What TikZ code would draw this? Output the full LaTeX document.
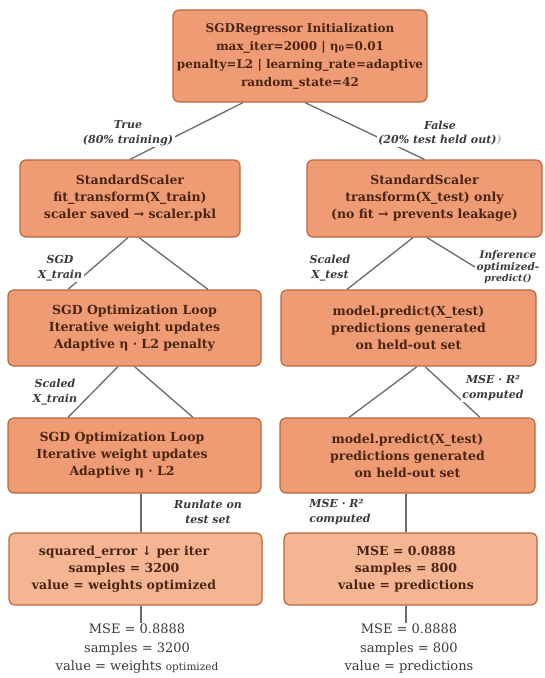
\documentclass[tikz,border=0pt]{standalone}
\usepackage{fontspec}
\setmainfont{DejaVu Serif}
\usetikzlibrary{calc,backgrounds}
\definecolor{boxfill}{HTML}{EF9C74}
\definecolor{boxfilllight}{HTML}{F5B592}
\definecolor{boxdraw}{HTML}{B9683F}
\definecolor{boxtext}{HTML}{4A2414}
\definecolor{linec}{HTML}{6A6A6A}
\definecolor{labc}{HTML}{3A3A3A}
\tikzset{
  box/.style={draw=boxdraw, line width=1.2pt, fill=boxfill, rounded corners=6pt,
    align=center, font=\fontsize{12.5}{17}\selectfont\bfseries, text=boxtext, inner sep=0pt},
  lbox/.style={box, fill=boxfilllight},
  boxtxt/.style={align=center, font=\fontsize{12.5}{17}\selectfont\bfseries, text=boxtext, inner sep=0pt},
  conn/.style={draw=linec, line width=1.3pt},
  lab/.style={font=\fontsize{11}{14.5}\selectfont\bfseries\itshape, text=labc,
    align=center, fill=white, inner sep=1.5pt},
  plain/.style={font=\fontsize{13}{18.5}\selectfont, text=labc, align=center, inner sep=1pt},
}
\begin{document}
\begin{tikzpicture}[x=1pt,y=-1pt]
\useasboundingbox (0,0) rectangle (545,678);
% boxes
\node[box, minimum width=254pt, minimum height=92pt, font=\fontsize{12}{18}\selectfont\bfseries] (top) at (300,56)
  {SGDRegressor Initialization\\max\_iter=2000 | η\textsubscript{0}=0.01\\penalty=L2 | learning\_rate=adaptive\\random\_state=42};
\node[box, minimum width=220pt, minimum height=77pt] (L2) at (130,198.5)
  {StandardScaler\\fit\_transform(X\_train)\\scaler saved → scaler.pkl};
\node[box, minimum width=235pt, minimum height=77pt] (R2) at (424.5,198.5)
  {StandardScaler\\transform(X\_test) only\\(no fit → prevents leakage)};
\node[box, minimum width=253pt, minimum height=76pt] (L3) at (134.5,328)
  {SGD Optimization Loop\\Iterative weight updates\\Adaptive η · L2 penalty};
\node[box, minimum width=255pt, minimum height=76pt] (R3) at (408.5,328)
  {model.predict(X\_test)\\predictions generated\\on held-out set};
\node[box, minimum width=253pt, minimum height=75pt] (L4) at (134.5,455.5) {};
\node[boxtxt] (L4t) at (122,455.5)
  {SGD Optimization Loop\\Iterative weight updates\\Adaptive η · L2};
\node[box, minimum width=255pt, minimum height=75pt] (R4) at (407.5,455.5)
  {model.predict(X\_test)\\predictions generated\\on held-out set};
\node[lbox, minimum width=253pt, minimum height=72pt] (L5) at (135.5,569) {};
\node[boxtxt] (L5t) at (124,569)
  {squared\_error ↓ per iter\\samples = 3200\\value = weights optimized};
\node[lbox, minimum width=253pt, minimum height=72pt] (R5) at (410.5,569) {};
\node[boxtxt] (R5t) at (406,569)
  {MSE = 0.0888\\samples = 800\\value = predictions};
% labels
\node[lab] (t1) at (128,133) {True\\(80\% training)};
\node[lab] (f1) at (440,133) {False\\(20\% test held out)\textcolor{gray!50}{)}};
\node[lab] (l23) at (60,268) {SGD\\X\_train};
\node[lab] (r23) at (330,268) {Scaled\\X\_test};
\node[lab, fill=none, font=\fontsize{10.5}{11.5}\selectfont\bfseries\itshape] (inf) at (508,267)
  {Inference\\optimized-\\{\fontsize{9.5}{11}\selectfont predict()}};
\node[lab] (l34) at (55,392) {Scaled\\X\_train};
\node[lab] (r34) at (493,388) {MSE · R²\\computed};
\node[lab] (l45) at (208,512) {Runlate on\\test set};
\node[lab, align=left] (r45) at (340,512) {MSE · R²\\computed};
% bottom texts
\node[plain, anchor=north] (lt) at (137,623)
  {MSE = 0.8888\\samples = 3200\\value = weights {\fontsize{10.5}{12}\selectfont optimized}};
\node[plain, anchor=north] (rt) at (409,623)
  {MSE = 0.8888\\samples = 800\\value = predictions};
% connectors
\begin{scope}[on background layer]
\fill[white] (0,0) rectangle (545,678);
\draw[conn] ([xshift=-57pt]top.south) -- (L2.north);
\draw[conn] ([xshift=5pt]top.south) -- (R2.north);
\draw[conn] ([xshift=-2pt]L2.south) -- ([xshift=-66.5pt]L3.north);
\draw[conn] ([xshift=9pt]L2.south) -- ([xshift=73.5pt]L3.north);
\draw[conn] ([xshift=-11.5pt]R2.south) -- ([xshift=-61.5pt]R3.north);
\draw[conn] ([xshift=2.5pt]R2.south) -- (inf.west);
\draw[conn] ([xshift=-16.5pt]L3.south) -- ([xshift=-66.5pt]L4.north);
\draw[conn] (L3.south) -- ([xshift=58.5pt]L4.north);
\draw[conn] ([xshift=8.5pt]R3.south) -- ([xshift=-58.5pt]R4.north);
\draw[conn] ([xshift=16.5pt]R3.south) -- ([xshift=72.5pt]R4.north);
\draw[conn] ([xshift=6.5pt]L4.south) -- ([xshift=6.5pt]L4.south |- L5.north);
\draw[conn] ([xshift=-1.5pt]R4.south) -- ([xshift=-1.5pt]R4.south |- R5.north);
\draw[conn] ([xshift=5.5pt]L5.south) -- ([xshift=5.5pt]L5.south |- lt.north);
\draw[conn] ([xshift=-4.5pt]R5.south) -- ([xshift=-4.5pt]R5.south |- rt.north);
\end{scope}
\end{tikzpicture}
\end{document}
